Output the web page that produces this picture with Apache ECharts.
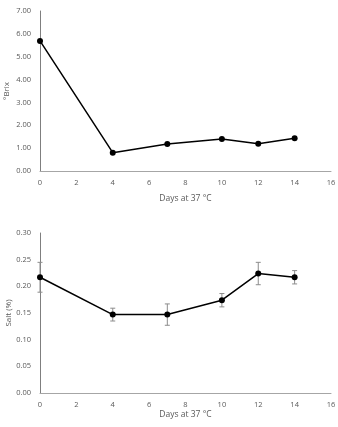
<!DOCTYPE html>
<html>
<head>
<meta charset="utf-8">
<script src="https://cdn.jsdelivr.net/npm/echarts@6/dist/echarts.min.js"></script>
<style>
  html, body { margin: 0; padding: 0; background: #fff; }
  #chart { width: 338px; height: 427px; }
</style>
</head>
<body>
<div id="chart"></div>
<script>
// days of storage at 37 °C
const days = [0, 4, 7, 10, 12, 14];
// °Brix (top panel)
const brix = [5.69, 0.80, 1.18, 1.40, 1.19, 1.43];
// salt % (bottom panel) and its error (± sd)
const salt = [0.217, 0.147, 0.147, 0.174, 0.224, 0.217];
const saltErr = [0.028, 0.012, 0.020, 0.0125, 0.021, 0.0125];

const labelColor = "#595959";
const font = "Open Sans";

const chart = echarts.init(document.getElementById("chart"));

function xAxisCfg(gridIndex, nameGap) {
  return {
    type: "value",
    gridIndex: gridIndex,
    min: 0,
    max: 16,
    interval: 2,
    name: "Days at 37 °C",
    nameLocation: "middle",
    nameGap: nameGap,
    nameMoveOverlap: false,
    nameTextStyle: { color: labelColor, fontSize: 8.5, fontFamily: font },
    axisLine: { lineStyle: { color: "#a6a6a6", width: 1 } },
    axisTick: { show: false },
    splitLine: { show: false },
    axisLabel: { color: labelColor, fontSize: 7.5, fontFamily: font, margin: 8 },
  };
}

function yAxisCfg(gridIndex, name, max, interval, nameGap) {
  return {
    type: "value",
    gridIndex: gridIndex,
    min: 0,
    max: max,
    interval: interval,
    name: name,
    nameLocation: "middle",
    nameGap: nameGap,
    nameMoveOverlap: false,
    nameTextStyle: { color: labelColor, fontSize: 8, fontFamily: font },
    axisLine: { show: true, lineStyle: { color: "#7f7f7f", width: 1 } },
    axisTick: { show: false },
    splitLine: { show: false },
    axisLabel: {
      color: labelColor,
      fontSize: 7.5,
      fontFamily: font,
      margin: 9,
      formatter: (v) => v.toFixed(2),
    },
  };
}

// error bars drawn with a custom series
function errorBars(params, api) {
  const x = api.value(0);
  const lo = api.coord([x, api.value(1)]);
  const hi = api.coord([x, api.value(2)]);
  const cap = 2.5;
  const style = { stroke: "#8c8c8c", lineWidth: 1 };
  return {
    type: "group",
    children: [
      { type: "line", shape: { x1: lo[0], y1: lo[1], x2: hi[0], y2: hi[1] }, style: style },
      { type: "line", shape: { x1: lo[0] - cap, y1: lo[1], x2: lo[0] + cap, y2: lo[1] }, style: style },
      { type: "line", shape: { x1: hi[0] - cap, y1: hi[1], x2: hi[0] + cap, y2: hi[1] }, style: style },
    ],
  };
}

const option = {
  animation: false,
  backgroundColor: "#fff",
  grid: [
    { left: 40, top: 11, width: 291, height: 160, outerBoundsMode: "none" },
    { left: 40, top: 233, width: 291, height: 160, outerBoundsMode: "none" },
  ],
  xAxis: [xAxisCfg(0, 23), xAxisCfg(1, 17)],
  yAxis: [
    yAxisCfg(0, "°Brix", 7, 1, 29),
    yAxisCfg(1, "Salt (%)", 0.3, 0.05, 27),
  ],
  series: [
    {
      type: "line",
      xAxisIndex: 0,
      yAxisIndex: 0,
      data: days.map((d, i) => [d, brix[i]]),
      symbol: "circle",
      symbolSize: 6,
      itemStyle: { color: "#000" },
      lineStyle: { color: "#000", width: 1.5 },
    },
    {
      type: "custom",
      xAxisIndex: 1,
      yAxisIndex: 1,
      data: days.map((d, i) => [d, salt[i] - saltErr[i], salt[i] + saltErr[i]]),
      renderItem: errorBars,
      z: 1,
    },
    {
      type: "line",
      xAxisIndex: 1,
      yAxisIndex: 1,
      data: days.map((d, i) => [d, salt[i]]),
      symbol: "circle",
      symbolSize: 6,
      itemStyle: { color: "#000" },
      lineStyle: { color: "#000", width: 1.5 },
      z: 3,
    },
  ],
};

chart.setOption(option);
</script>
</body>
</html>
